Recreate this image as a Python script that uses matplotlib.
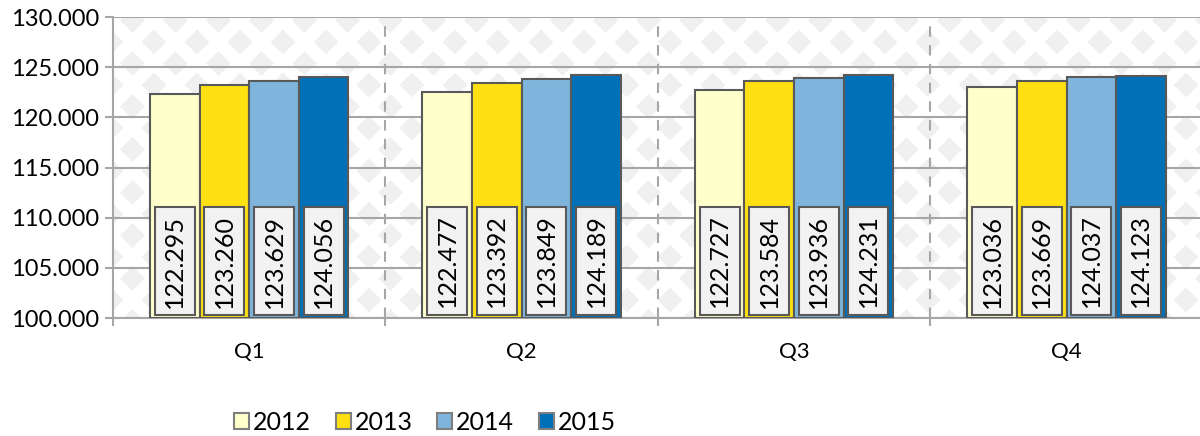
import matplotlib
matplotlib.use("Agg")
import matplotlib.pyplot as plt
import numpy as np
from matplotlib.patches import Patch, Rectangle

plt.rcParams["font.family"] = ["Lato", "DejaVu Sans"]

# %%
# Data
quarters = ["Q1", "Q2", "Q3", "Q4"]
years = ["2012", "2013", "2014", "2015"]
values = {
    "2012": [122295, 122477, 122727, 123036],
    "2013": [123260, 123392, 123584, 123669],
    "2014": [123629, 123849, 123936, 124037],
    "2015": [124056, 124189, 124231, 124123],
}
colors = ["#FFFFCC", "#FFE010", "#7FB5DC", "#0070B8"]
y_ticks = [100000, 105000, 110000, 115000, 120000, 125000, 130000]


def dotted(v):
    return f"{v:,.0f}".replace(",", ".")


fig = plt.figure(figsize=(12, 4.36), dpi=100)
ax = fig.add_axes([113 / 1200, 118 / 436, 1087 / 1200, 301 / 436])
ymin, ymax = 100000, 130000
xmin, xmax = -0.5, 3.49
ax.set_xlim(xmin, xmax)
ax.set_ylim(ymin, ymax)

# %%
# Diamond background texture: grey diamonds on a staggered lattice
w, h, P, r = 1087, 301, 43.0, 12.5
xx, yy = np.meshgrid(np.arange(w) - 19.0, np.arange(h) - 3.0)
d1 = np.abs((xx + P / 2) % P - P / 2) + np.abs((yy + P / 2) % P - P / 2)
d2 = np.abs(xx % P - P / 2) + np.abs(yy % P - P / 2)
grey = np.minimum(d1, d2) < r
bg = np.where(grey[..., None], [0.945, 0.945, 0.945], [1.0, 1.0, 1.0])
ax.imshow(bg, extent=(xmin, xmax, ymin, ymax), aspect="auto",
          interpolation="bilinear", zorder=0)

# %%
# Bars and the boxed, rotated value labels
x = np.arange(len(quarters))
bw = 0.182
box_w = 0.147
for i, (yr, col) in enumerate(zip(years, colors)):
    xs = x + (i - 1.5) * bw
    ax.bar(xs, np.array(values[yr]) - ymin, bottom=ymin, width=bw,
           color=col, edgecolor="#595959", linewidth=1.5, zorder=3)
    for xi, val in zip(xs, values[yr]):
        ax.add_patch(Rectangle((xi - box_w / 2, 100300), box_w, 10760,
                               facecolor="#F2F2F2", edgecolor="#595959",
                               linewidth=1.5, zorder=4))
        ax.text(xi, 100300 + 10760 / 2, dotted(val), rotation=90,
                ha="center", va="center", fontsize=18, color="black",
                zorder=5)

# %%
# Axes, grid and ticks
ax.set_yticks(y_ticks)
ax.set_yticklabels([dotted(t) for t in y_ticks], fontsize=17)
ax.yaxis.grid(True, color="#A6A6A6", linewidth=1.5, zorder=1)
ax.set_xticks(x)
ax.set_xticklabels(quarters, fontsize=16)
ax.tick_params(axis="x", which="major", length=0, pad=17)
ax.set_xticks([-0.5, 0.5, 1.5, 2.5], minor=True)
ax.tick_params(axis="x", which="minor", length=6, width=1.5, color="#A6A6A6")
ax.tick_params(axis="y", length=6, width=1.5, color="#A6A6A6", pad=4)
for b in [0.5, 1.5, 2.5]:
    ax.axvline(b, color="#A6A6A6", linestyle=(0, (5, 4)), linewidth=1.5, zorder=1)
ax.set_axisbelow(True)
for side in ["top", "right"]:
    ax.spines[side].set_visible(False)
for side in ["left", "bottom"]:
    ax.spines[side].set_color("#A6A6A6")
    ax.spines[side].set_linewidth(1.5)

# %%
# Legend
handles = [Patch(facecolor=c, edgecolor="#7F7F7F", linewidth=1.5, label=yr)
           for yr, c in zip(years, colors)]
fig.legend(handles=handles, loc="center", bbox_to_anchor=(425 / 1200, 1 - 422 / 436),
           ncol=4, frameon=False, fontsize=18, handlelength=0.6, handleheight=0.6,
           handletextpad=0.15, columnspacing=1.0)

fig.savefig("out.png", dpi=100)
